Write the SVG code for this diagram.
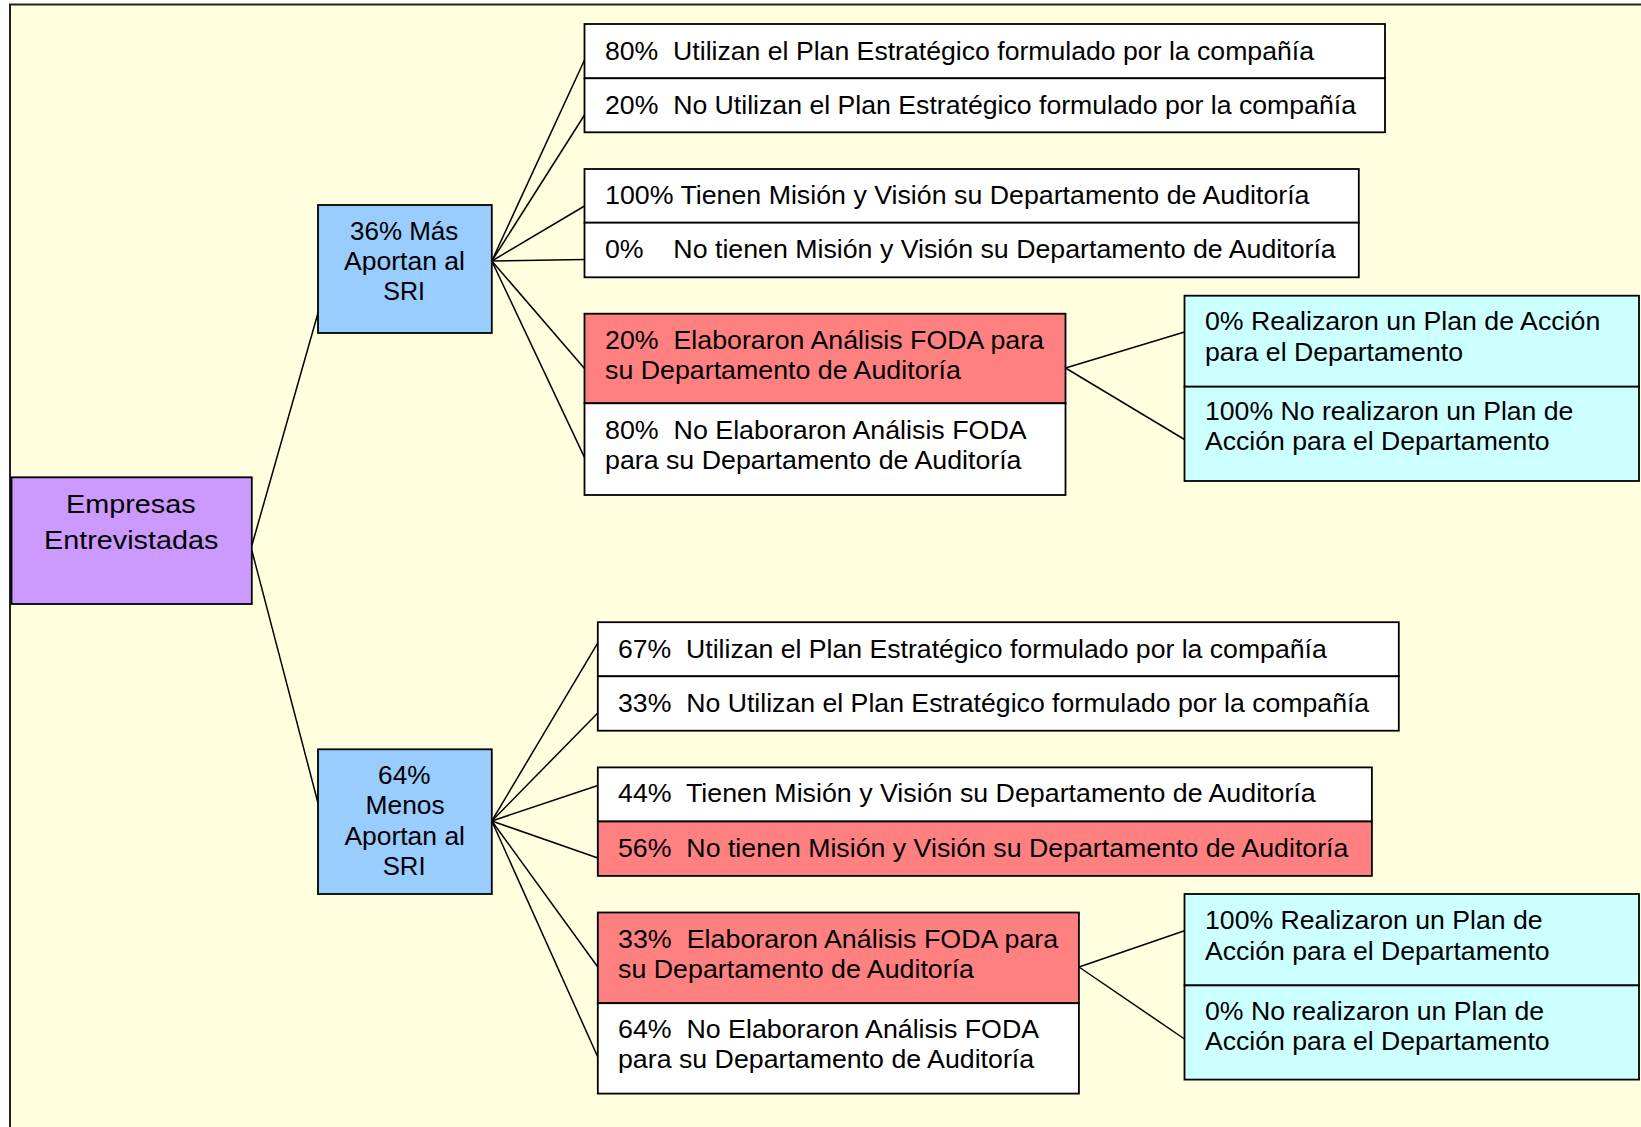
<svg xmlns="http://www.w3.org/2000/svg" width="1641" height="1127" viewBox="0 0 1641 1127">
<style>
.box{stroke:#000;stroke-width:1.8}
.w{fill:#fff}.r{fill:#ff8080}.c{fill:#ccffff}.b{fill:#99ccff}.p{fill:#cc99ff}
text{font-family:"Liberation Sans",Arial,sans-serif;font-size:25.5px;fill:#000;white-space:pre}
.edge{stroke:#000;stroke-width:1.5;fill:none}
</style>
<rect x="0" y="0" width="1641" height="1127" fill="#fff"/>
<rect x="10" y="4.5" width="1700" height="1200" fill="#ffffe0" stroke="#222" stroke-width="2"/>
<g id="connectors">
<path class="edge" d="M252,545 L318,313"/>
<path class="edge" d="M252,551 L318,803"/>
<path class="edge" d="M491.8,261 L584.5,60"/>
<path class="edge" d="M491.8,261 L584.5,115"/>
<path class="edge" d="M491.8,261 L584.5,206"/>
<path class="edge" d="M491.8,261 L584.5,259.5"/>
<path class="edge" d="M491.8,261 L584.5,368.4"/>
<path class="edge" d="M491.8,261 L584.5,457.4"/>
<path class="edge" d="M1065.5,368 L1184.5,332"/>
<path class="edge" d="M1065.5,368 L1184.5,439.5"/>
<path class="edge" d="M491.8,821 L597.8,642.8"/>
<path class="edge" d="M491.8,821 L597.8,713"/>
<path class="edge" d="M491.8,821 L597.8,785.5"/>
<path class="edge" d="M491.8,821 L597.8,858"/>
<path class="edge" d="M491.8,821 L597.8,967"/>
<path class="edge" d="M491.8,821 L597.8,1057"/>
<path class="edge" d="M1079,967 L1184.5,930.7"/>
<path class="edge" d="M1079,967 L1184.5,1039"/>
</g>
<g id="root">
<rect class="box p" x="11.5" y="477.3" width="240.3" height="126.7"/>
<text x="66" y="512.5" textLength="129.7" lengthAdjust="spacingAndGlyphs" font-size="26.5">Empresas</text>
<text x="44" y="549" textLength="174.3" lengthAdjust="spacingAndGlyphs" font-size="26.5">Entrevistadas</text>
</g>
<g id="mas">
<rect class="box b" x="318" y="205" width="173.8" height="128"/>
<text x="350" y="240" textLength="108.3" lengthAdjust="spacingAndGlyphs">36% Más</text>
<text x="344" y="270" textLength="121" lengthAdjust="spacingAndGlyphs">Aportan al</text>
<text x="383.3" y="300" textLength="41.7" lengthAdjust="spacingAndGlyphs">SRI</text>
</g>
<g id="menos">
<rect class="box b" x="318" y="749.3" width="173.8" height="144.7"/>
<text x="378.1" y="784" textLength="52.4" lengthAdjust="spacingAndGlyphs">64%</text>
<text x="365.5" y="814" textLength="79.2" lengthAdjust="spacingAndGlyphs">Menos</text>
<text x="344.4" y="844.5" textLength="120.6" lengthAdjust="spacingAndGlyphs">Aportan al</text>
<text x="382.7" y="875" textLength="42.9" lengthAdjust="spacingAndGlyphs">SRI</text>
</g>
<g id="a1a">
<rect class="box w" x="584.5" y="24" width="800.5" height="54.3"/>
<text x="605" y="60" textLength="709" lengthAdjust="spacingAndGlyphs">80%  Utilizan el Plan Estratégico formulado por la compañía</text>
</g>
<g id="a1b">
<rect class="box w" x="584.5" y="78.3" width="800.5" height="54"/>
<text x="605" y="113.5" textLength="751" lengthAdjust="spacingAndGlyphs">20%  No Utilizan el Plan Estratégico formulado por la compañía</text>
</g>
<g id="a2a">
<rect class="box w" x="584.5" y="169" width="774.3" height="53.7"/>
<text x="605" y="204" textLength="704.5" lengthAdjust="spacingAndGlyphs">100% Tienen Misión y Visión su Departamento de Auditoría</text>
</g>
<g id="a2b">
<rect class="box w" x="584.5" y="222.7" width="774.3" height="54.6"/>
<text x="605" y="258" textLength="730.7" lengthAdjust="spacingAndGlyphs">0%    No tienen Misión y Visión su Departamento de Auditoría</text>
</g>
<g id="a3a">
<rect class="box r" x="584.5" y="313.7" width="481" height="89.6"/>
<text x="605" y="348.5" textLength="439" lengthAdjust="spacingAndGlyphs">20%  Elaboraron Análisis FODA para</text>
<text x="605" y="378.5" textLength="355.8" lengthAdjust="spacingAndGlyphs">su Departamento de Auditoría</text>
</g>
<g id="a3b">
<rect class="box w" x="584.5" y="403.3" width="481" height="91.7"/>
<text x="605" y="438.5" textLength="421.7" lengthAdjust="spacingAndGlyphs">80%  No Elaboraron Análisis FODA</text>
<text x="605" y="468.5" textLength="416.5" lengthAdjust="spacingAndGlyphs">para su Departamento de Auditoría</text>
</g>
<g id="a4a">
<rect class="box c" x="1184.5" y="295.7" width="454.5" height="91"/>
<text x="1205" y="330" textLength="395.3" lengthAdjust="spacingAndGlyphs">0% Realizaron un Plan de Acción</text>
<text x="1205" y="361" textLength="258" lengthAdjust="spacingAndGlyphs">para el Departamento</text>
</g>
<g id="a4b">
<rect class="box c" x="1184.5" y="386.7" width="454.5" height="94.3"/>
<text x="1205" y="419.5" textLength="368.4" lengthAdjust="spacingAndGlyphs">100% No realizaron un Plan de</text>
<text x="1205" y="450" textLength="344.6" lengthAdjust="spacingAndGlyphs">Acción para el Departamento</text>
</g>
<g id="b1a">
<rect class="box w" x="597.8" y="622.2" width="801" height="54.1"/>
<text x="618" y="657.5" textLength="708.7" lengthAdjust="spacingAndGlyphs">67%  Utilizan el Plan Estratégico formulado por la compañía</text>
</g>
<g id="b1b">
<rect class="box w" x="597.8" y="676.3" width="801" height="54.4"/>
<text x="618" y="711.5" textLength="751.2" lengthAdjust="spacingAndGlyphs">33%  No Utilizan el Plan Estratégico formulado por la compañía</text>
</g>
<g id="b2a">
<rect class="box w" x="597.8" y="767.4" width="774.1" height="54.1"/>
<text x="618" y="802.4" textLength="697.7" lengthAdjust="spacingAndGlyphs">44%  Tienen Misión y Visión su Departamento de Auditoría</text>
</g>
<g id="b2b">
<rect class="box r" x="597.8" y="821.5" width="774.1" height="54.4"/>
<text x="618" y="856.5" textLength="730.4" lengthAdjust="spacingAndGlyphs">56%  No tienen Misión y Visión su Departamento de Auditoría</text>
</g>
<g id="b3a">
<rect class="box r" x="597.8" y="912.5" width="481.1" height="90.7"/>
<text x="618" y="947.5" textLength="440.2" lengthAdjust="spacingAndGlyphs">33%  Elaboraron Análisis FODA para</text>
<text x="618" y="977.5" textLength="356" lengthAdjust="spacingAndGlyphs">su Departamento de Auditoría</text>
</g>
<g id="b3b">
<rect class="box w" x="597.8" y="1003.2" width="481.1" height="90.4"/>
<text x="618" y="1038" textLength="421.1" lengthAdjust="spacingAndGlyphs">64%  No Elaboraron Análisis FODA</text>
<text x="618" y="1068" textLength="416.1" lengthAdjust="spacingAndGlyphs">para su Departamento de Auditoría</text>
</g>
<g id="b4a">
<rect class="box c" x="1184.5" y="894" width="454.5" height="91.4"/>
<text x="1205" y="929" textLength="337.7" lengthAdjust="spacingAndGlyphs">100% Realizaron un Plan de</text>
<text x="1205" y="959.5" textLength="344.6" lengthAdjust="spacingAndGlyphs">Acción para el Departamento</text>
</g>
<g id="b4b">
<rect class="box c" x="1184.5" y="985.4" width="454.5" height="94.2"/>
<text x="1205" y="1020" textLength="339.1" lengthAdjust="spacingAndGlyphs">0% No realizaron un Plan de</text>
<text x="1205" y="1050" textLength="344.6" lengthAdjust="spacingAndGlyphs">Acción para el Departamento</text>
</g>
</svg>
